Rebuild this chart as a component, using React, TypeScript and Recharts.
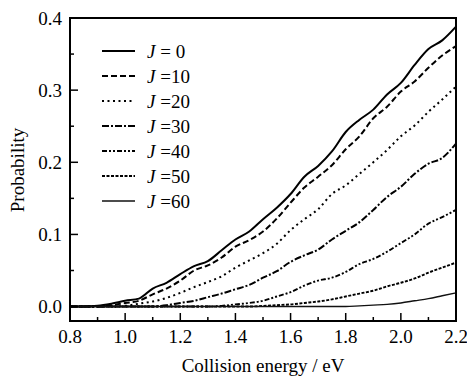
import { LineChart, Line, XAxis, YAxis } from 'recharts';

const energy = [
  0.8, 0.85, 0.9, 0.95, 1.0, 1.05, 1.1, 1.15, 1.2, 1.25, 1.3, 1.35, 1.4, 1.45, 1.5,
  1.55, 1.6, 1.65, 1.7, 1.75, 1.8, 1.85, 1.9, 1.95, 2.0, 2.05, 2.1, 2.15, 2.2,
];
const probJ0 = [
  0, 0, 0.001, 0.004, 0.008, 0.011, 0.025, 0.033, 0.045, 0.056, 0.063, 0.078, 0.093, 0.104, 0.121,
  0.137, 0.156, 0.18, 0.195, 0.215, 0.242, 0.259, 0.273, 0.294, 0.31, 0.335, 0.357, 0.369, 0.388,
];
const probJ10 = [
  0, 0, 0, 0.002, 0.005, 0.008, 0.017, 0.025, 0.036, 0.05, 0.057, 0.068, 0.083, 0.092, 0.104,
  0.122, 0.144, 0.165, 0.18, 0.196, 0.218, 0.236, 0.261, 0.277, 0.298, 0.312, 0.331, 0.348, 0.361,
];
const probJ20 = [
  0, 0, 0, 0, 0.001, 0.004, 0.007, 0.012, 0.019, 0.027, 0.034, 0.042, 0.054, 0.064, 0.074,
  0.087, 0.106, 0.121, 0.135, 0.156, 0.168, 0.184, 0.2, 0.217, 0.236, 0.251, 0.27, 0.287, 0.305,
];
const probJ30 = [
  0, 0, 0, 0, 0, 0, 0, 0.002, 0.005, 0.008, 0.013, 0.018, 0.024, 0.03, 0.04,
  0.049, 0.062, 0.071, 0.079, 0.093, 0.105, 0.117, 0.134, 0.152, 0.166, 0.184, 0.198, 0.206, 0.226,
];
const probJ40 = [
  0, 0, 0, 0, 0, 0, 0, 0, 0, 0, 0, 0.001, 0.003, 0.005, 0.008,
  0.014, 0.02, 0.029, 0.036, 0.04, 0.048, 0.059, 0.066, 0.076, 0.088, 0.1, 0.115, 0.124, 0.134,
];
const probJ50 = [
  0, 0, 0, 0, 0, 0, 0, 0, 0, 0, 0, 0, 0, 0, 0.001,
  0.002, 0.003, 0.005, 0.007, 0.01, 0.014, 0.018, 0.022, 0.028, 0.033, 0.039, 0.047, 0.054, 0.061,
];
const probJ60 = [
  0, 0, 0, 0, 0, 0, 0, 0, 0, 0, 0, 0, 0, 0, 0,
  0, 0, 0, 0, 0, 0, 0.001, 0.002, 0.003, 0.005, 0.008, 0.011, 0.015, 0.019,
];

const xTicks = [0.8, 0.9, 1.0, 1.1, 1.2, 1.3, 1.4, 1.5, 1.6, 1.7, 1.8, 1.9, 2.0, 2.1, 2.2];
const yTicks = [0, 0.05, 0.1, 0.15, 0.2, 0.25, 0.3, 0.35, 0.4];

const series = [
  { key: 'j0', label: ' = 0', dash: undefined, width: 2, color: '#000' },
  { key: 'j10', label: ' =10', dash: '6 3', width: 2, color: '#000' },
  { key: 'j20', label: ' =20', dash: '2 3.5', width: 2, color: '#000' },
  { key: 'j30', label: ' =30', dash: '7 2 2 2', width: 2, color: '#000' },
  { key: 'j40', label: ' =40', dash: '5 2 2 2 2 2', width: 1.9, color: '#000' },
  { key: 'j50', label: ' =50', dash: '3 1.5', width: 1.9, color: '#000' },
  { key: 'j60', label: ' =60', dash: undefined, width: 1.4, color: '#111' },
];

const data = energy.map((e, i) => ({
  e,
  j0: probJ0[i],
  j10: probJ10[i],
  j20: probJ20[i],
  j30: probJ30[i],
  j40: probJ40[i],
  j50: probJ50[i],
  j60: probJ60[i],
}));

const W = 467;
const H = 379;
const LEFT = 70;
const RIGHT = 456;
const TOP = 18;
const BOTTOM = 321;
const FONT = '"Liberation Serif", "Times New Roman", serif';

const XTick = (props: any) => {
  const { x, payload } = props;
  const major = Math.round(payload.value * 10) % 2 === 0;
  return (
    <g>
      <line x1={x} x2={x} y1={BOTTOM} y2={BOTTOM - (major ? 8 : 4)} stroke="#000" strokeWidth={1.5} />
      {major && (
        <text x={x} y={343} textAnchor="middle" fontFamily={FONT} fontSize={19} fill="#000">
          {payload.value.toFixed(1)}
        </text>
      )}
    </g>
  );
};

const YTick = (props: any) => {
  const { y, payload } = props;
  const major = Math.round(payload.value * 100) % 10 === 0;
  return (
    <g>
      <line x1={LEFT} x2={LEFT + (major ? 8 : 4)} y1={y} y2={y} stroke="#000" strokeWidth={1.5} />
      {major && (
        <text x={62} y={y} dy="0.35em" textAnchor="end" fontFamily={FONT} fontSize={19} fill="#000">
          {payload.value.toFixed(1)}
        </text>
      )}
    </g>
  );
};

export default function App() {
  return (
    <div style={{ position: 'absolute', left: 0, top: 0, width: W, height: H, background: '#fff' }}>
      <LineChart width={W} height={H} data={data} margin={{ top: TOP, right: W - RIGHT, left: 0, bottom: 0 }}>
        <XAxis
          dataKey="e"
          type="number"
          domain={[0.8, 2.2]}
          ticks={xTicks}
          interval={0}
          height={H - BOTTOM}
          axisLine={false}
          tickLine={false}
          tick={<XTick />}
        />
        <YAxis
          type="number"
          domain={[-0.02, 0.4]}
          ticks={yTicks}
          interval={0}
          width={LEFT}
          axisLine={false}
          tickLine={false}
          tick={<YTick />}
          allowDataOverflow
        />
        {series.map((s) => (
          <Line
            key={s.key}
            dataKey={s.key}
            type="monotone"
            stroke={s.color}
            strokeWidth={s.width}
            strokeDasharray={s.dash}
            dot={false}
            activeDot={false}
            isAnimationActive={false}
          />
        ))}
      </LineChart>
      <svg
        width={W}
        height={H}
        style={{ position: 'absolute', left: 0, top: 0, pointerEvents: 'none' }}
      >
        <rect x={LEFT} y={TOP} width={RIGHT - LEFT} height={BOTTOM - TOP} fill="none" stroke="#000" strokeWidth={2} />
        {series.map((s, i) => {
          const y = 51 + i * 25;
          return (
            <g key={s.key}>
              <line x1={102} x2={135} y1={y} y2={y} stroke={s.color} strokeWidth={s.width} strokeDasharray={s.dash} />
              <text x={147} y={y} dy="0.35em" fontFamily={FONT} fontSize={19} fill="#000">
                <tspan fontStyle="italic">J</tspan>
                <tspan>{s.label}</tspan>
              </text>
            </g>
          );
        })}
        <text x={263} y={372} textAnchor="middle" fontFamily={FONT} fontSize={19} fill="#000">
          Collision energy / eV
        </text>
        <text
          x={24}
          y={170}
          textAnchor="middle"
          fontFamily={FONT}
          fontSize={19}
          fill="#000"
          transform="rotate(-90 24 170)"
        >
          Probability
        </text>
      </svg>
    </div>
  );
}
